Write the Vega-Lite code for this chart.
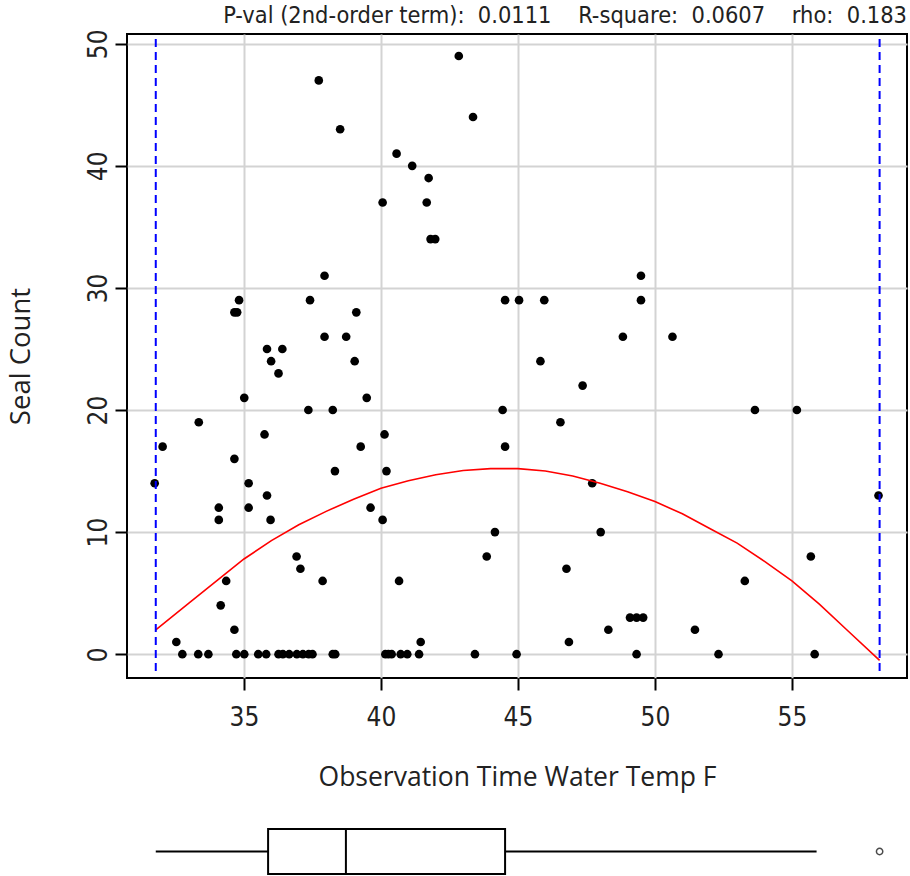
{
  "$schema": "https://vega.github.io/schema/vega-lite/v6.json",
  "background": "white",
  "padding": {"left": 5, "top": 3, "right": 3, "bottom": 0},
  "config": {
    "view": {"stroke": null},
    "axis": {
      "labelFont": "Liberation Sans Narrow, DejaVu Sans Condensed, Liberation Sans",
      "labelFontSize": 26,
      "labelColor": "#222222",
      "titleFont": "Open Sans",
      "titleFontSize": 26.5,
      "titleFontWeight": "normal",
      "titleColor": "#222222",
      "tickColor": "black",
      "tickWidth": 2,
      "tickSize": 12,
      "domain": false,
      "gridColor": "#D3D3D3",
      "gridWidth": 2
    }
  },
  "datasets": {
    "obs": [
      {"temp": 31.74, "seals": 14}, {"temp": 32.03, "seals": 17}, {"temp": 32.53, "seals": 1}, {"temp": 32.75, "seals": 0},
      {"temp": 33.33, "seals": 0}, {"temp": 33.35, "seals": 19}, {"temp": 33.7, "seals": 0}, {"temp": 34.08, "seals": 12},
      {"temp": 34.08, "seals": 11}, {"temp": 34.15, "seals": 4}, {"temp": 34.35, "seals": 6}, {"temp": 34.65, "seals": 2},
      {"temp": 34.65, "seals": 16}, {"temp": 34.65, "seals": 28}, {"temp": 34.75, "seals": 28}, {"temp": 34.82, "seals": 29},
      {"temp": 34.72, "seals": 0}, {"temp": 35.01, "seals": 21}, {"temp": 35.01, "seals": 0}, {"temp": 35.17, "seals": 14},
      {"temp": 35.17, "seals": 12}, {"temp": 35.52, "seals": 0}, {"temp": 35.75, "seals": 18}, {"temp": 35.81, "seals": 0},
      {"temp": 35.84, "seals": 13}, {"temp": 35.84, "seals": 25}, {"temp": 35.99, "seals": 24}, {"temp": 35.97, "seals": 11},
      {"temp": 36.26, "seals": 23}, {"temp": 36.26, "seals": 0}, {"temp": 36.4, "seals": 25}, {"temp": 36.42, "seals": 0},
      {"temp": 36.65, "seals": 0}, {"temp": 36.92, "seals": 8}, {"temp": 36.93, "seals": 0}, {"temp": 37.06, "seals": 7},
      {"temp": 37.15, "seals": 0}, {"temp": 37.35, "seals": 20}, {"temp": 37.36, "seals": 0}, {"temp": 37.41, "seals": 29},
      {"temp": 37.5, "seals": 0}, {"temp": 37.73, "seals": 47}, {"temp": 37.87, "seals": 6}, {"temp": 37.94, "seals": 26},
      {"temp": 37.94, "seals": 31}, {"temp": 38.24, "seals": 20}, {"temp": 38.24, "seals": 0}, {"temp": 38.32, "seals": 15},
      {"temp": 38.33, "seals": 0}, {"temp": 38.51, "seals": 43}, {"temp": 38.73, "seals": 26}, {"temp": 39.04, "seals": 24},
      {"temp": 39.1, "seals": 28}, {"temp": 39.26, "seals": 17}, {"temp": 39.48, "seals": 21}, {"temp": 39.62, "seals": 12},
      {"temp": 40.06, "seals": 11}, {"temp": 40.06, "seals": 37}, {"temp": 40.13, "seals": 18}, {"temp": 40.2, "seals": 15},
      {"temp": 40.16, "seals": 0}, {"temp": 40.27, "seals": 0}, {"temp": 40.39, "seals": 0}, {"temp": 40.57, "seals": 41},
      {"temp": 40.66, "seals": 6}, {"temp": 40.72, "seals": 0}, {"temp": 40.96, "seals": 0}, {"temp": 41.14, "seals": 40},
      {"temp": 41.39, "seals": 0}, {"temp": 41.45, "seals": 1}, {"temp": 41.67, "seals": 37}, {"temp": 41.74, "seals": 39},
      {"temp": 41.81, "seals": 34}, {"temp": 41.98, "seals": 34}, {"temp": 42.84, "seals": 49}, {"temp": 43.36, "seals": 44},
      {"temp": 43.43, "seals": 0}, {"temp": 43.86, "seals": 8}, {"temp": 44.16, "seals": 10}, {"temp": 44.44, "seals": 20},
      {"temp": 44.53, "seals": 17}, {"temp": 44.53, "seals": 29}, {"temp": 44.95, "seals": 0}, {"temp": 45.04, "seals": 29},
      {"temp": 45.82, "seals": 24}, {"temp": 45.96, "seals": 29}, {"temp": 46.55, "seals": 19}, {"temp": 46.77, "seals": 7},
      {"temp": 46.86, "seals": 1}, {"temp": 47.36, "seals": 22}, {"temp": 47.71, "seals": 14}, {"temp": 48.02, "seals": 10},
      {"temp": 48.3, "seals": 2}, {"temp": 48.83, "seals": 26}, {"temp": 49.09, "seals": 3}, {"temp": 49.33, "seals": 3},
      {"temp": 49.33, "seals": 0}, {"temp": 49.57, "seals": 3}, {"temp": 49.49, "seals": 31}, {"temp": 49.49, "seals": 29},
      {"temp": 50.64, "seals": 26}, {"temp": 51.46, "seals": 2}, {"temp": 52.32, "seals": 0}, {"temp": 53.28, "seals": 6},
      {"temp": 53.65, "seals": 20}, {"temp": 55.18, "seals": 20}, {"temp": 55.69, "seals": 8}, {"temp": 55.83, "seals": 0},
      {"temp": 58.16, "seals": 13}
    ],
    "fit": [
      {"temp": 31.78, "fitted": 2.0}, {"temp": 33, "fitted": 4.2}, {"temp": 34, "fitted": 6.0}, {"temp": 35, "fitted": 7.8},
      {"temp": 36, "fitted": 9.3}, {"temp": 37, "fitted": 10.6}, {"temp": 38, "fitted": 11.7}, {"temp": 39, "fitted": 12.7},
      {"temp": 40, "fitted": 13.6}, {"temp": 41, "fitted": 14.2}, {"temp": 42, "fitted": 14.7}, {"temp": 43, "fitted": 15.05},
      {"temp": 44, "fitted": 15.2}, {"temp": 45, "fitted": 15.2}, {"temp": 46, "fitted": 15.0}, {"temp": 47, "fitted": 14.6},
      {"temp": 48, "fitted": 14.0}, {"temp": 49, "fitted": 13.3}, {"temp": 50, "fitted": 12.5}, {"temp": 51, "fitted": 11.5},
      {"temp": 52, "fitted": 10.3}, {"temp": 53, "fitted": 9.1}, {"temp": 54, "fitted": 7.6}, {"temp": 55, "fitted": 6.0},
      {"temp": 56, "fitted": 4.1}, {"temp": 57, "fitted": 2.0}, {"temp": 58.2, "fitted": -0.5}
    ],
    "bounds": [{"temp": 31.78}, {"temp": 58.2}],
    "box": [{"low": 31.78, "q1": 35.88, "median": 38.72, "q3": 44.53, "high": 55.9, "outlier": 58.2}]
  },
  "spacing": 36,
  "vconcat": [
    {
      "width": 780,
      "height": 644,
      "title": {
        "text": "P-val (2nd-order term):\u00a0 0.0111\u00a0\u00a0\u00a0 R-square:\u00a0 0.0607\u00a0\u00a0\u00a0 rho:\u00a0 0.183",
        "anchor": "end",
        "font": "Liberation Sans Narrow, DejaVu Sans Condensed, Liberation Sans",
        "fontSize": 23.4,
        "fontWeight": "normal",
        "color": "#222222",
        "offset": 0
      },
      "view": {"stroke": "black", "strokeWidth": 2},
      "layer": [
        {
          "data": {"name": "obs"},
          "mark": {"type": "circle", "color": "black", "size": 75, "opacity": 1},
          "encoding": {
            "x": {
              "field": "temp", "type": "quantitative",
              "scale": {"domain": [30.73, 59.2], "nice": false, "zero": false},
              "axis": {"values": [35, 40, 45, 50, 55], "title": "Observation Time Water Temp F", "labelPadding": 14, "titlePadding": 34, "grid": true}
            },
            "y": {
              "field": "seals", "type": "quantitative",
              "scale": {"domain": [-1.95, 50.8], "nice": false, "zero": false},
              "axis": {"values": [0, 10, 20, 30, 40, 50], "title": "Seal Count", "titleFontSize": 27.5, "labelAngle": -90, "labelAlign": "center", "labelBaseline": "bottom", "labelPadding": 4, "titlePadding": 50, "grid": true}
            }
          }
        },
        {
          "data": {"name": "fit"},
          "mark": {"type": "line", "color": "#FF0000", "strokeWidth": 1.6},
          "encoding": {
            "x": {"field": "temp", "type": "quantitative"},
            "y": {"field": "fitted", "type": "quantitative"}
          }
        },
        {
          "data": {"name": "bounds"},
          "mark": {"type": "rule", "color": "#0000FF", "strokeWidth": 2, "strokeDash": [8, 5]},
          "encoding": {
            "x": {"field": "temp", "type": "quantitative"},
            "y": {"datum": 50.4},
            "y2": {"datum": -1.5}
          }
        }
      ]
    },
    {
      "width": 780,
      "height": 45,
      "data": {"name": "box"},
      "layer": [
        {
          "mark": {"type": "rule", "color": "black", "strokeWidth": 2},
          "encoding": {
            "x": {"field": "low", "type": "quantitative", "scale": {"domain": [30.73, 59.2], "nice": false, "zero": false}, "axis": null},
            "x2": {"field": "high"}
          }
        },
        {
          "mark": {"type": "rect", "fill": "white", "stroke": "black", "strokeWidth": 2},
          "encoding": {
            "x": {"field": "q1", "type": "quantitative"},
            "x2": {"field": "q3"}
          }
        },
        {
          "mark": {"type": "rule", "color": "black", "strokeWidth": 2},
          "encoding": {
            "x": {"field": "median", "type": "quantitative"}
          }
        },
        {
          "mark": {"type": "point", "shape": "circle", "filled": false, "color": "black", "size": 40, "strokeWidth": 1.5},
          "encoding": {
            "x": {"field": "outlier", "type": "quantitative"}
          }
        }
      ]
    }
  ]
}
